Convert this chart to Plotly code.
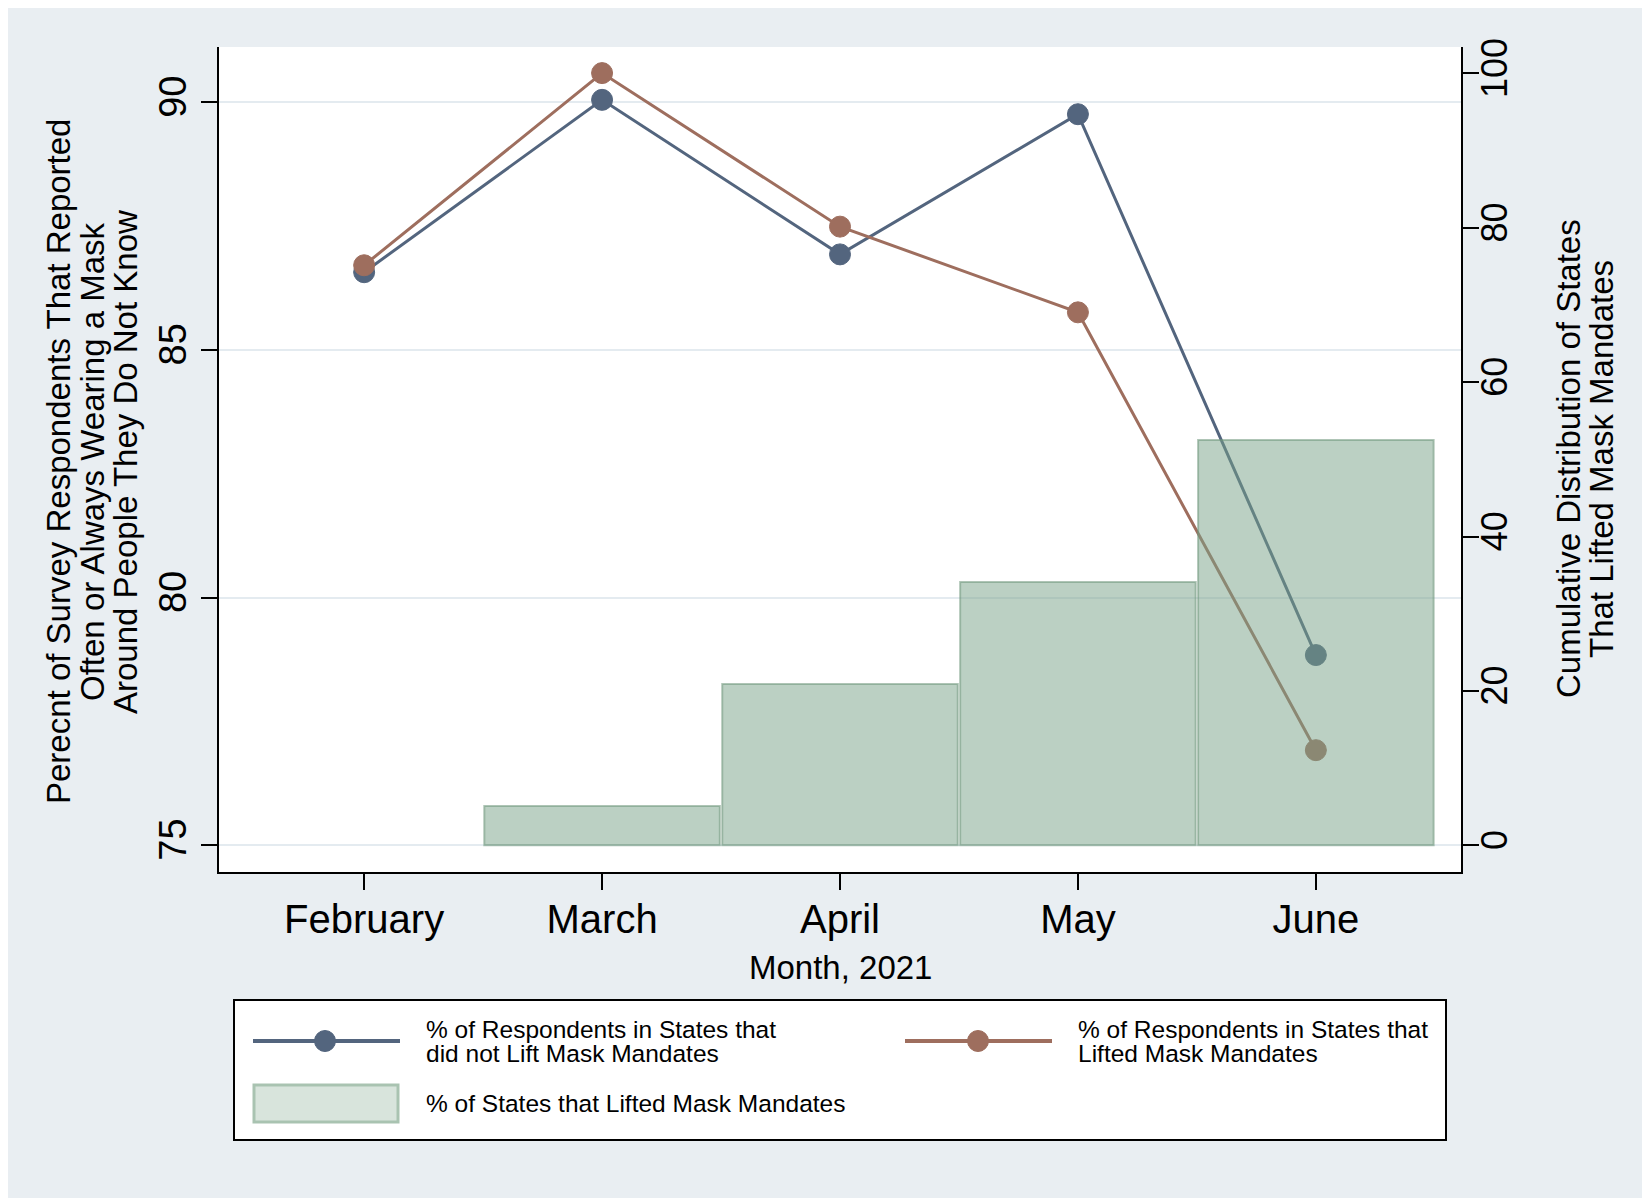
import plotly.graph_objects as go

# ==============================
# DATA
# ==============================

months = ["February", "March", "April", "May", "June"]
month_pos = [1, 2, 3, 4, 5]

# % of respondents often/always wearing a mask
not_lifted = [86.57, 90.05, 86.93, 89.76, 78.84]
lifted = [86.71, 90.59, 87.49, 85.76, 76.92]

# cumulative % of states that lifted mask mandates
bar_pos = [2, 3, 4, 5]
states_lifted = [5.1, 20.9, 34.1, 52.5]

left_ticks = [75, 80, 85, 90]
right_ticks = [0, 20, 40, 60, 80, 100]

# ==============================
# STYLE
# ==============================

FONT = "Liberation Sans, Arial, sans-serif"
BLUE = "#53657e"
RED = "#9e6e5e"
BG = "#e9eef2"

# the page body has an 8px margin, which leaves the white frame round the chart
OFF = 8
W, H = 1636, 1190
# plot area in page pixels
L, R, T, B = 219, 1461, 47, 872


def px(x):
    return (x - L) / (R - L)


def py(y):
    return (B - y) / (B - T)


fig = go.Figure()

# lines
fig.add_trace(go.Scatter(
    x=month_pos, y=not_lifted,
    mode="lines+markers",
    name="% of Respondents in States that did not Lift Mask Mandates",
    line=dict(color=BLUE, width=3),
    marker=dict(color=BLUE, size=21, line=dict(color=BLUE, width=1)),
    yaxis="y",
))

fig.add_trace(go.Scatter(
    x=month_pos, y=lifted,
    mode="lines+markers",
    name="% of Respondents in States that Lifted Mask Mandates",
    line=dict(color=RED, width=3),
    marker=dict(color=RED, size=21, line=dict(color=RED, width=1)),
    yaxis="y",
))

# bars (drawn on top, semi-transparent)
fig.add_trace(go.Bar(
    x=bar_pos, y=states_lifted,
    width=0.99,
    name="% of States that Lifted Mask Mandates",
    marker=dict(color="rgba(120,161,136,0.5)",
                line=dict(color="rgba(110,150,122,0.55)", width=2)),
    yaxis="y2",
))

# ==============================
# LEGEND (drawn by hand)
# ==============================

shapes = [
    dict(type="rect", xref="paper", yref="paper",
         x0=px(234), x1=px(1446), y0=py(1140), y1=py(1000),
         line=dict(color="black", width=2), fillcolor="white"),
    dict(type="line", xref="paper", yref="paper",
         x0=px(253), x1=px(400), y0=py(1041), y1=py(1041),
         line=dict(color=BLUE, width=4)),
    dict(type="circle", xref="paper", yref="paper",
         x0=px(325 - 10.5), x1=px(325 + 10.5), y0=py(1041 + 10.5), y1=py(1041 - 10.5),
         line=dict(color=BLUE, width=1), fillcolor=BLUE),
    dict(type="line", xref="paper", yref="paper",
         x0=px(905), x1=px(1052), y0=py(1041), y1=py(1041),
         line=dict(color=RED, width=4)),
    dict(type="circle", xref="paper", yref="paper",
         x0=px(978 - 10.5), x1=px(978 + 10.5), y0=py(1041 + 10.5), y1=py(1041 - 10.5),
         line=dict(color=RED, width=1), fillcolor=RED),
    dict(type="rect", xref="paper", yref="paper",
         x0=px(254), x1=px(398), y0=py(1122), y1=py(1085),
         line=dict(color="#a9c3b1", width=3), fillcolor="#d8e4dc"),
]


def note(text, x, y, size, angle=0, anchor="center"):
    return dict(text=text, xref="paper", yref="paper", x=px(x), y=py(y),
                xanchor=anchor, yanchor="middle", showarrow=False,
                textangle=angle, font=dict(family=FONT, size=size, color="black"))


annotations = [
    note("% of Respondents in States that", 424, 1029, 24.5, anchor="left"),
    note("did not Lift Mask Mandates", 424, 1053, 24.5, anchor="left"),
    note("% of Respondents in States that", 1076, 1029, 24.5, anchor="left"),
    note("Lifted Mask Mandates", 1076, 1053, 24.5, anchor="left"),
    note("% of States that Lifted Mask Mandates", 424, 1103, 24.5, anchor="left"),
    # axis titles
    note("Month, 2021", 840, 967, 33),
    note("Perecnt of Survey Respondents That Reported", 58, 462, 33, angle=-90),
    note("Often or Always Wearing a Mask", 92, 462, 33, angle=-90),
    note("Around People They Do Not Know", 125, 462, 33, angle=-90),
    note("Cumulative Distribution of States", 1568, 459, 33, angle=-90),
    note("That Lifted Mask Mandates", 1601, 459, 33, angle=-90),
]

# ==============================
# LAYOUT
# ==============================

fig.update_layout(
    width=W, height=H,
    margin=dict(l=L - OFF, r=W - (R - OFF), t=T - OFF, b=H - (B - OFF), pad=0),
    paper_bgcolor=BG,
    plot_bgcolor="white",
    showlegend=False,
    font=dict(family=FONT, color="black"),
    shapes=shapes,
    annotations=annotations,
    xaxis=dict(
        range=[0.39, 5.61],
        tickmode="array", tickvals=month_pos, ticktext=months,
        ticks="outside", ticklen=16, tickwidth=2, tickcolor="black",
        ticklabelstandoff=-5,
        showline=True, linecolor="black", linewidth=2,
        showgrid=False, zeroline=False,
        tickfont=dict(size=40),
    ),
    yaxis=dict(
        range=[74.46, 91.117],
        tickmode="array", tickvals=left_ticks,
        ticks="outside", ticklen=16, tickwidth=2, tickcolor="black",
        tickangle=-90,
        showline=True, linecolor="black", linewidth=2,
        showgrid=True, gridcolor="#e4ebf0", gridwidth=2,
        zeroline=False,
        tickfont=dict(size=38),
    ),
    yaxis2=dict(
        range=[-3.46, 103.43],
        overlaying="y", side="right",
        tickmode="array", tickvals=right_ticks,
        ticks="outside", ticklen=16, tickwidth=2, tickcolor="black",
        tickangle=-90, ticklabelstandoff=-15,
        showline=True, linecolor="black", linewidth=2,
        showgrid=False, zeroline=False,
        tickfont=dict(size=36),
    ),
)

fig.write_html("out.html")
